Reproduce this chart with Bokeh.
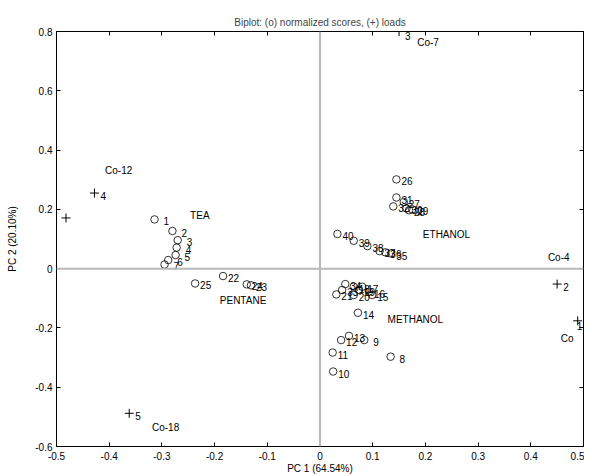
from bokeh.plotting import figure
from bokeh.models import Range1d, Span, LinearAxis, FixedTicker, ColumnDataSource, CustomJSTickFormatter
from bokeh.core.properties import value
from bokeh.embed import file_html
from bokeh.resources import INLINE

# ---- data ----
score_labels = [str(i) for i in range(1, 41)]
score_x = [-0.314, -0.280, -0.270, -0.272, -0.274, -0.288, -0.295,
           0.134, 0.084, 0.025, 0.024, 0.040, 0.055, 0.072,
           0.099, 0.093, 0.080, 0.064, 0.074, 0.064, 0.031,
           -0.184, -0.131, -0.139, -0.237,
           0.145, 0.159, 0.169, 0.175, 0.164, 0.145, 0.139,
           0.042, 0.048, 0.135, 0.124, 0.113, 0.090, 0.064, 0.033]
score_y = [0.166, 0.127, 0.096, 0.071, 0.046, 0.029, 0.014,
           -0.297, -0.241, -0.347, -0.283, -0.241, -0.227, -0.149,
           -0.089, -0.078, -0.061, -0.061, -0.072, -0.089, -0.087,
           -0.025, -0.056, -0.053, -0.050,
           0.301, 0.225, 0.197, 0.200, 0.203, 0.240, 0.210,
           -0.072, -0.052, 0.051, 0.055, 0.059, 0.076, 0.094, 0.117]

load_labels = ["1", "2", "3", "4", "5", ""]
load_x = [0.489, 0.450, 0.150, -0.428, -0.362, -0.482]
load_y = [-0.176, -0.052, 0.800, 0.255, -0.488, 0.171]

group_labels = ["Co-12", "TEA", "PENTANE", "Co-18", "Co-7", "ETHANOL", "Co-4", "METHANOL", "Co"]
group_x = [-0.382, -0.228, -0.146, -0.293, 0.205, 0.240, 0.453, 0.181, 0.469]
group_y = [0.332, 0.179, -0.106, -0.536, 0.762, 0.115, 0.038, -0.171, -0.235]

x_ticks = [-0.5, -0.4, -0.3, -0.2, -0.1, 0, 0.1, 0.2, 0.3, 0.4, 0.5]
x_tick_labels = ["-0.5", "-0.4", "-0.3", "-0.2", "-0.1", "0", "0.1", "0.2", "0.3", "0.4", "0.5"]
y_ticks = [-0.6, -0.4, -0.2, 0, 0.2, 0.4, 0.6, 0.8]
y_tick_labels = ["-0.6", "-0.4", "-0.2", "0", "0.2", "0.4", "0.6", "0.8"]

FONT = "Liberation Sans"

p = figure(width=584, height=476, output_backend="svg", toolbar_location=None,
           x_range=Range1d(-0.5, 0.5), y_range=Range1d(-0.6, 0.8),
           min_border_left=56, min_border_right=1, min_border_top=31, min_border_bottom=29)
p.title.text = "Biplot: (o) normalized scores, (+) loads"
p.title.align = "center"
p.title.text_font = FONT
p.title.text_font_size = "10px"
p.title.text_font_style = "normal"
p.title.standoff = 7
p.grid.visible = False
p.outline_line_color = "black"
p.outline_line_width = 1
p.background_fill_color = "white"
p.border_fill_color = "white"

p.xaxis.axis_label = "PC 1 (64.54%)"
p.yaxis.axis_label = "PC 2 (20.10%)"
p.xaxis.ticker = FixedTicker(ticks=x_ticks)
p.yaxis.ticker = FixedTicker(ticks=y_ticks)
p.xaxis.major_label_overrides = dict(zip(x_ticks, x_tick_labels))
p.yaxis.major_label_overrides = dict(zip(y_ticks, y_tick_labels))
for ax in (p.xaxis[0], p.yaxis[0]):
    ax.major_tick_in = 4
    ax.major_tick_out = 0
    ax.minor_tick_line_color = None
    ax.axis_line_color = "black"
    ax.major_tick_line_color = "black"
    ax.major_label_text_font = FONT
    ax.major_label_text_font_size = "10px"
    ax.major_label_text_color = "black"
    ax.axis_label_text_font = FONT
    ax.axis_label_text_font_size = "10px"
    ax.axis_label_text_font_style = "normal"
    ax.axis_label_text_color = "black"
p.xaxis.major_label_standoff = 5
p.xaxis.axis_label_standoff = 0
p.yaxis.major_label_standoff = 4
p.yaxis.axis_label_standoff = 14

blank = CustomJSTickFormatter(code="return ''")
top = LinearAxis(ticker=FixedTicker(ticks=x_ticks), formatter=blank, major_tick_in=4, major_tick_out=0,
                 minor_tick_line_color=None, major_label_standoff=0, major_label_text_font_size="1px")
right = LinearAxis(ticker=FixedTicker(ticks=y_ticks), formatter=blank, major_tick_in=4, major_tick_out=0,
                   minor_tick_line_color=None, major_label_standoff=0, major_label_text_font_size="1px")
p.add_layout(top, "above")
p.add_layout(right, "right")

p.add_layout(Span(location=0, dimension="height", line_color="#b8b8b8", line_width=2))
p.add_layout(Span(location=0, dimension="width", line_color="#b8b8b8", line_width=2))

s_src = ColumnDataSource(dict(x=score_x, y=score_y, t=score_labels,
                              xo=[9 if len(t) == 1 else 5 for t in score_labels]))
p.scatter("x", "y", source=s_src, marker="circle", size=7.5, fill_color=None,
          line_color="black", line_width=0.8)
p.text("x", "y", text="t", source=s_src, x_offset="xo", y_offset=2,
       text_font=value(FONT), text_font_size="10px", text_baseline="middle", text_align="left",
       text_color="black")

# per-label screen offsets for the load numbers (style only)
load_xo = [-1, 6, 6, 6, 6, 6]
load_yo = [5, 3, 4, 3, 3, 3]
l_src = ColumnDataSource(dict(x=load_x, y=load_y, t=load_labels, xo=load_xo, yo=load_yo))
p.scatter("x", "y", source=l_src, marker="cross", size=9, line_color="black", line_width=1)
p.text("x", "y", text="t", source=l_src, x_offset="xo", y_offset="yo",
       text_font=value(FONT), text_font_size="10px", text_baseline="middle", text_align="left",
       text_color="black")

g_src = ColumnDataSource(dict(x=group_x, y=group_y, t=group_labels))
p.text("x", "y", text="t", source=g_src, text_font=value(FONT), text_font_size="10px",
       text_baseline="middle", text_align="center", text_color="black")

open("out.html", "w").write(file_html(p, INLINE))
